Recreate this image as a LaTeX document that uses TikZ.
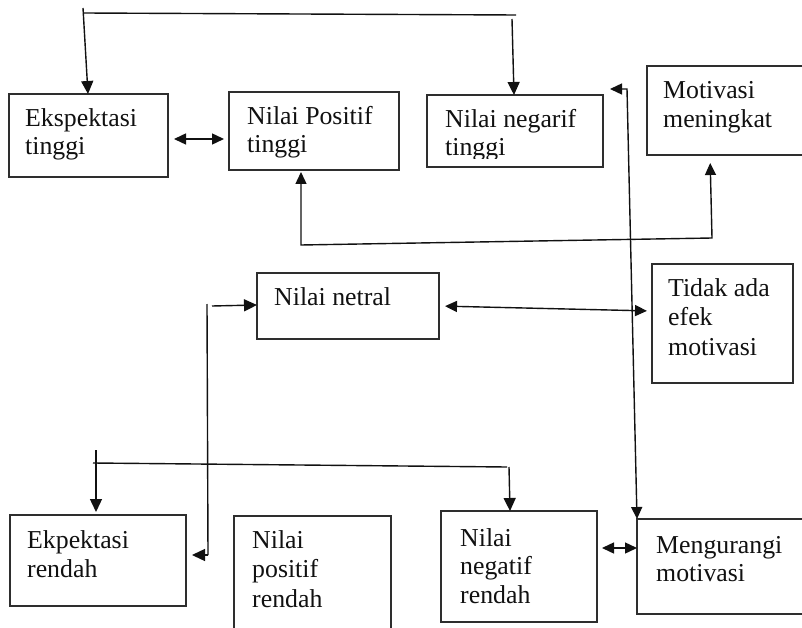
\documentclass[tikz,border=0pt]{standalone}
\usepackage{fontspec}
\setmainfont{Liberation Serif}
\usetikzlibrary{arrows.meta,fit}
\definecolor{ink}{HTML}{111111}
\definecolor{frame}{HTML}{2E2E2E}
\tikzset{
  box/.style={draw=frame, line width=1.5pt, rectangle, inner sep=0pt, outer sep=0pt},
  lbl/.style={anchor=base west, inner sep=0pt, text=ink,
              font=\fontsize{25.8}{29}\selectfont},
  conn/.style={draw=ink, line width=1.4pt},
  arr/.style={conn, -{Triangle[length=13pt,width=12pt]}},
  dbl/.style={conn, {Triangle[length=12pt,width=11pt]}-{Triangle[length=12pt,width=11pt]}}
}
\begin{document}
\begin{tikzpicture}[x=1pt,y=-1pt]
\useasboundingbox[fill=white] (0,0) rectangle (802,628);

% ---- boxes ----
\node[box, fit={(9,94)(168,177)}]   (b1) {};
\node[box, fit={(229,92)(399,170)}] (b2) {};
\node[box, fit={(427,95)(603,167)}] (b3) {};
\node[box, fit={(647,66)(806,155)}] (b4) {};
\node[box, fit={(257,273)(439,339)}] (b5) {};
\node[box, fit={(652,264)(793,383)}] (b6) {};
\node[box, fit={(10,515)(186,606)}] (b7) {};
\node[box, fit={(637,519)(806,614)}] (b8) {};
\node[box, fit={(234,516)(391,640)}] (b9) {};
\node[box, fit={(441,511)(597,622)}] (b10) {};

% ---- labels ----
\node[lbl] (l1a) at (25,127) {Ekspektasi};
\node[lbl] (l1b) at (25,155) {tinggi};
\node[lbl] (l2a) at (247,125) {Nilai Positif};
\node[lbl] (l2b) at (247,153) {tinggi};
\node[lbl] (l3a) at (445,128) {Nilai negarif};
\begin{scope}
  \clip (427,95) rectangle (603,159);
  \node[lbl] (l3b) at (445,156) {tinggi};
\end{scope}
\node[lbl] (l4a) at (663,99) {Motivasi};
\node[lbl] (l4b) at (663,128) {meningkat};
\node[lbl] (l5a) at (274,305) {Nilai netral};
\node[lbl] (l6a) at (668,296) {Tidak ada};
\node[lbl] (l6b) at (668,325) {efek};
\node[lbl] (l6c) at (668,355) {motivasi};
\node[lbl] (l7a) at (27,548) {Ekpektasi};
\node[lbl] (l7b) at (27,577) {rendah};
\node[lbl] (l9a) at (252,548) {Nilai};
\node[lbl] (l9b) at (252,577) {positif};
\node[lbl] (l9c) at (252,607) {rendah};
\node[lbl] (l10a) at (460,546) {Nilai};
\node[lbl] (l10b) at (460,574) {negatif};
\node[lbl] (l10c) at (460,603) {rendah};
\node[lbl] (l8a) at (656,553) {Mengurangi};
\node[lbl] (l8b) at (656,581) {motivasi};

% ---- bend points ----
\coordinate (ta) at (83,8);
\coordinate (tb) at (83,13);
\coordinate (tc) at (516,15);
\coordinate (td) at (512,19);
\coordinate (ma) at (301,245);
\coordinate (mb) at (712,238);
\coordinate (na) at (610,89);
\coordinate (nb) at (627,89);
\coordinate (ra) at (208,555);
\coordinate (rb) at (207,304);
\coordinate (rc) at (212,306);
\coordinate (ba) at (96,450);
\coordinate (bb) at (93,463);
\coordinate (bc) at (507,467);
\coordinate (bd) at (509,467);

% ---- connectors: upper row ----
\draw[arr] (ta) -- (b1.north -| 88,0);
\draw[conn] (tb) -- (tc);
\draw[arr] (td) -- (b3.north -| 514,0);
\draw[dbl, shorten <=6pt, shorten >=5pt] (b1.east |- 0,139) -- (b2.west |- 0,139);
\draw[dbl, shorten <=2pt, shorten >=8pt] (b2.south -| ma) -- (ma) -- (mb) -- (b4.south -| 710,0);
\draw[dbl] (na) -- (nb) -- (b8.north west);

% ---- connectors: middle ----
\draw[dbl, shorten <=6pt, shorten >=5pt] (b5.east |- 0,306) -- (b6.west |- 0,311);
\draw[arr, shorten >=6pt] (ra) -- (b7.east |- ra);
\draw[conn] (ra) -- (rb);
\draw[arr] (rc) -- (b5.west |- 0,305);

% ---- connectors: lower row ----
\draw[arr, shorten >=3pt] (ba) -- (b7.north -| ba);
\draw[conn] (bb) -- (bc);
\draw[arr] (bd) -- (b10.north -| 510,0);
\draw[dbl, shorten <=5pt] (b10.east |- 0,548) -- (b8.west |- 0,548);
\end{tikzpicture}
\end{document}
